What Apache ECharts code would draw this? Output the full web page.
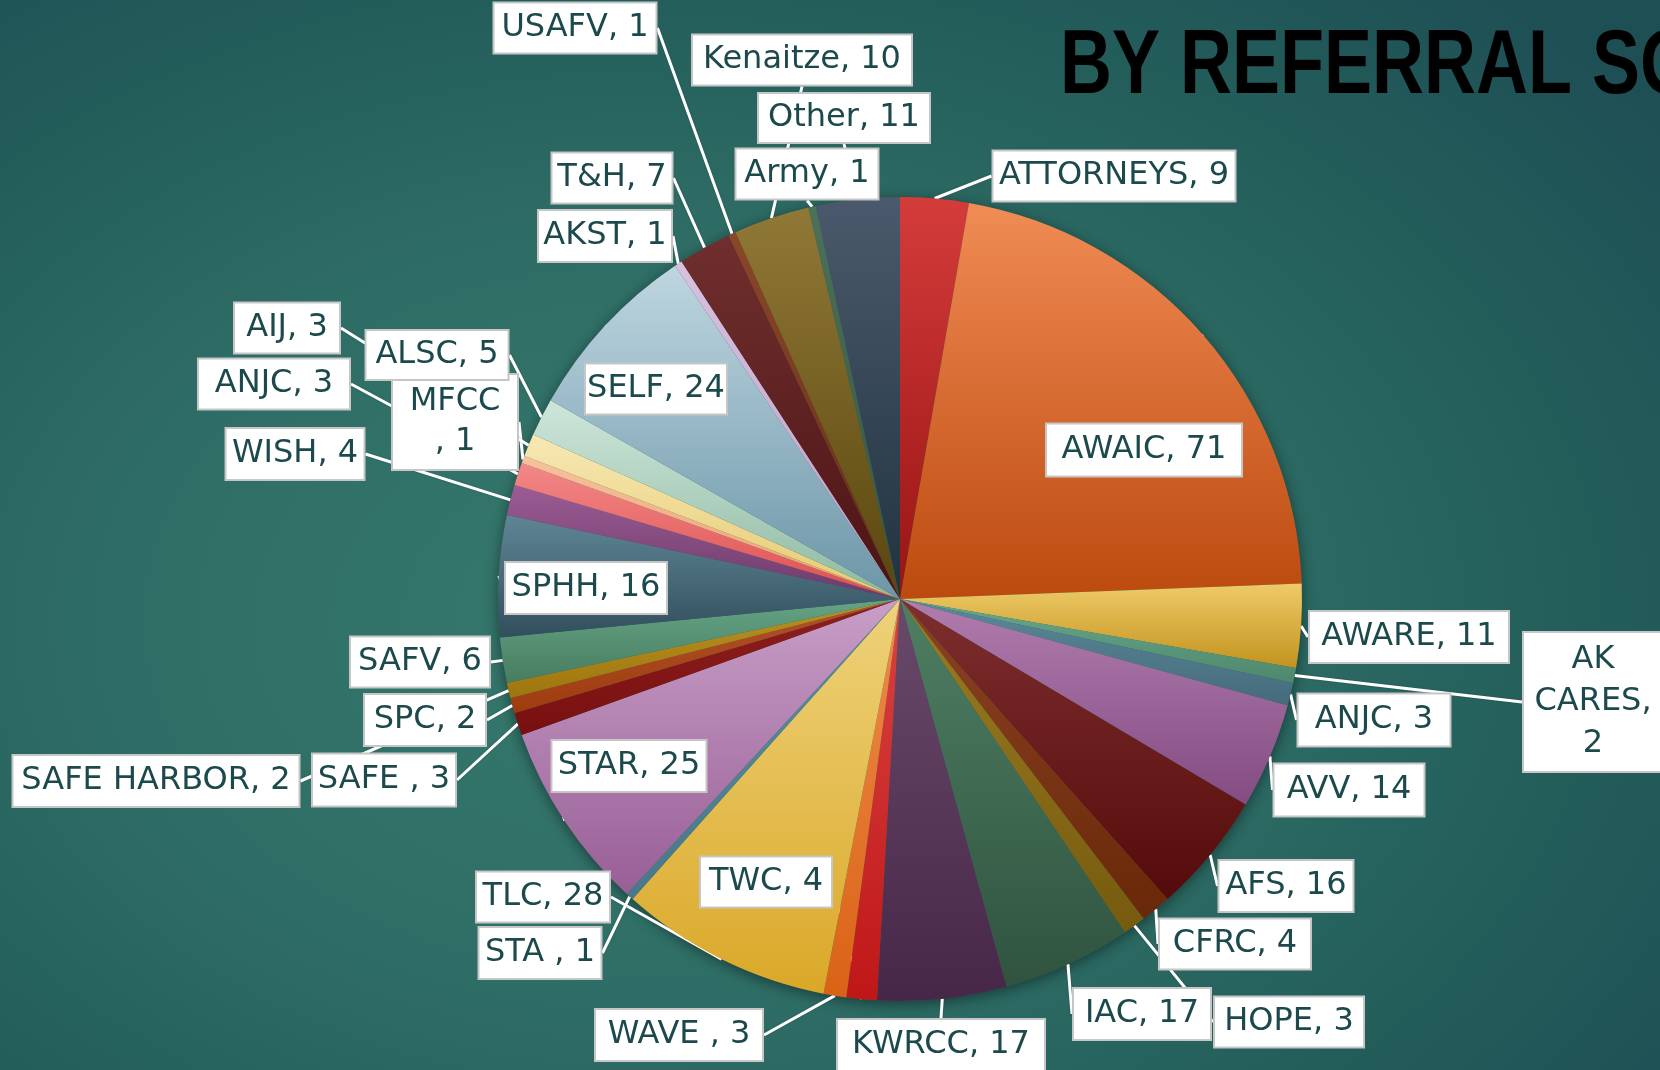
<!DOCTYPE html>
<html>
<head>
<meta charset="utf-8">
<script src="https://cdn.jsdelivr.net/npm/echarts@6/dist/echarts.min.js"></script>
<style>
  html, body { margin: 0; padding: 0; width: 1660px; height: 1070px; overflow: hidden; }
  body { background: radial-gradient(ellipse 75% 80% at 40% 58%, #377a6e 0%, #2e6d65 45%, #235d5a 75%, #1e4f55 100%); }
  #chart { width: 1660px; height: 1070px; }
</style>
</head>
<body>
<div id="chart"></div>
<script>
// ---- data (clockwise from 12 o'clock) ----
const categories = ['ATTORNEYS', 'AWAIC', 'AWARE', 'AK CARES', 'ANJC', 'AVV', 'AFS', 'CFRC', 'HOPE', 'IAC', 'KWRCC',
  'TWC', 'WAVE ', 'TLC', 'STA ', 'STAR', 'SAFE ', 'SPC', 'SAFE HARBOR', 'SAFV', 'SPHH', 'WISH', 'ANJC', 'MFCC',
  'AIJ', 'ALSC', 'SELF', 'AKST', 'T&H', 'USAFV', 'Kenaitze', 'Army', 'Other'];
const values = [9, 71, 11, 2, 3, 14, 16, 4, 3, 17, 17,
  4, 3, 28, 1, 25, 3, 2, 2, 6, 16, 4, 3, 1,
  3, 5, 24, 1, 7, 1, 10, 1, 11];
const titleText = 'BY REFERRAL SOURCE';

// ---- styles (slice gradient: top colour, bottom colour) ----
const colorTop = ['#d43c3a', '#f08c55', '#eeca68', '#6aa88a', '#5b8999', '#b07dae', '#7e2e2e', '#8c4222', '#9c7c22', '#4f7f63', '#6a4a6a',
  '#da4242', '#ef8c4a', '#eed27a', '#5c909e', '#c89ec7', '#901f1f', '#b2522a', '#ba9222', '#64a484', '#5f8696', '#9c5c94', '#f28888', '#f6c29c',
  '#f7e8b4', '#cee6da', '#bed6e0', '#d8c0de', '#702f2f', '#8c4628', '#907836', '#4c705a', '#4a5a6c'];
const colorBottom = ['#981414', '#bc4a0e', '#c3931e', '#4e886c', '#456b7b', '#844c82', '#550b0b', '#692809', '#765a0e', '#2f533f', '#472748',
  '#bf1717', '#da6216', '#daa828', '#48788a', '#985f96', '#780f0f', '#9e3c0e', '#9e760e', '#487c60', '#324e5c', '#6c3a6a', '#df4e4e', '#ee9e6e',
  '#e6ca6e', '#8eb9a2', '#6c96a8', '#be9ec6', '#4c1313', '#682c12', '#5a460e', '#365642', '#213240'];

// ---- label box layout: centre x, centre y, box width, box height ----
const labelBoxes = [
  [1114, 176, 243, 51], [1144, 450, 196, 53], [1409, 637, 200, 52], [1593, 702, 138, 138], [1374, 720, 153, 53],
  [1349, 790, 151, 53], [1286, 886, 135, 52], [1235, 944, 152, 51], [1289, 1022, 150, 51], [1142, 1014, 138, 52],
  [941, 1045, 208, 52], [766, 882, 132, 51], [679, 1035, 168, 52], [543, 897, 134, 51], [540, 953, 123, 52],
  [629, 766, 155, 52], [384, 780, 144, 53], [425, 720, 122, 52], [156, 781, 287, 52], [420, 662, 140, 51],
  [586, 588, 162, 52], [295, 454, 139, 52], [274, 384, 152, 51], [455, 422, 124, 93], [287, 328, 106, 51],
  [437, 355, 143, 50], [656, 389, 142, 51], [605, 236, 134, 52], [612, 178, 121, 51], [575, 28, 163, 51],
  [802, 60, 220, 51], [807, 174, 143, 51], [844, 118, 172, 50]
];

function labelText(name, value) {
  if (name === 'AK CARES') return 'AK\nCARES,\n' + value;
  if (name === 'MFCC') return 'MFCC\n, ' + value;
  return name + ', ' + value;
}

const pieData = categories.map(function (name, i) {
  const b = labelBoxes[i];
  let lbl;
  if (name === 'AK CARES') {
    lbl = { width: b[2], lineHeight: 42, padding: [6, 0, 6, 0] };
  } else if (name === 'MFCC') {
    lbl = { width: b[2], lineHeight: 40, padding: [14, 0, 0, 0] };
  } else {
    lbl = { width: b[2] - 2, lineHeight: b[3] - 2, padding: 0 };
  }
  return {
    name: name,
    value: values[i],
    itemStyle: {
      color: new echarts.graphic.LinearGradient(0, 0, 0, 1, [
        { offset: 0, color: colorTop[i] },
        { offset: 1, color: colorBottom[i] }
      ])
    },
    label: lbl
  };
});

const chart = echarts.init(document.getElementById('chart'), null, { renderer: 'canvas' });
chart.setOption({
  backgroundColor: 'transparent',
  animation: false,
  graphic: [{
    type: 'text',
    x: 1060,
    y: 68,
    scaleX: 0.8,
    style: {
      text: titleText,
      font: 'bold 90px "Liberation Sans", Arial, sans-serif',
      fill: '#000000',
      textVerticalAlign: 'middle'
    },
    z: 1
  }],
  series: [
    {
      type: 'pie',
      silent: true,
      z: 1,
      center: [900, 599],
      radius: 402,
      label: { show: false },
      labelLine: { show: false },
      itemStyle: { color: '#2b5e58', shadowBlur: 14, shadowColor: 'rgba(0,0,0,0.45)', shadowOffsetY: 3 },
      data: [{ value: 1 }]
    },
    {
      type: 'pie',
      z: 2,
      center: [900, 599],
      radius: 402,
      startAngle: 90,
      clockwise: true,
      avoidLabelOverlap: false,
      itemStyle: { borderWidth: 0 },
      label: {
        show: true,
        position: 'outside',
        formatter: function (p) { return labelText(p.name, p.value); },
        fontFamily: '"DejaVu Sans", sans-serif',
        fontSize: 32,
        color: '#1c4a4c',
        backgroundColor: '#ffffff',
        borderColor: '#c6c6c6',
        borderWidth: 2,
        align: 'center'
      },
      labelLine: {
        show: true,
        length: 10,
        length2: 0,
        minTurnAngle: 0,
        maxSurfaceAngle: 180,
        lineStyle: { color: '#ffffff', width: 3, shadowColor: 'rgba(0,0,0,0.25)', shadowBlur: 2 }
      },
      labelLayout: function (params) {
        const b = labelBoxes[params.dataIndex];
        return { x: b[0], y: b[1], align: 'center', verticalAlign: 'middle' };
      },
      data: pieData
    }
  ]
});
</script>
</body>
</html>
